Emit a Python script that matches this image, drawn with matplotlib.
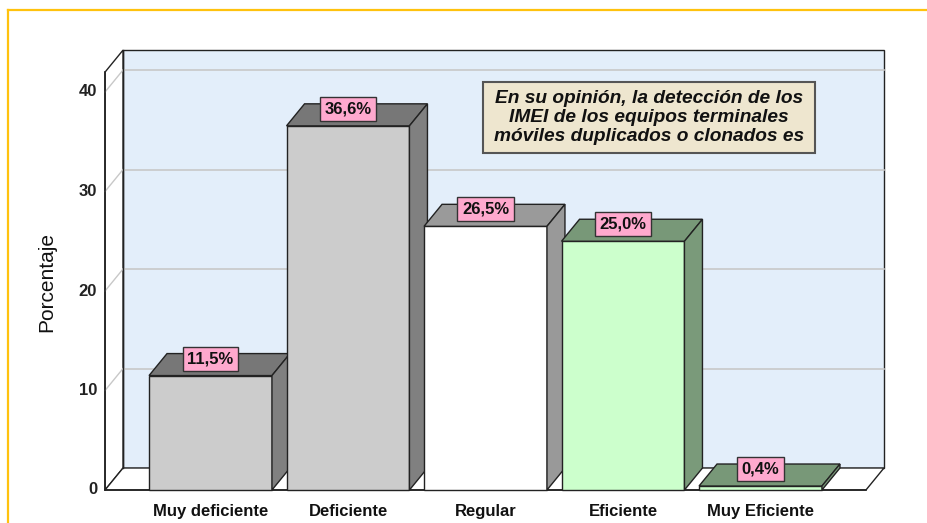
import matplotlib
matplotlib.use("Agg")
import matplotlib.pyplot as plt
from matplotlib.patches import Polygon, Rectangle
from matplotlib.lines import Line2D

categories = ["Muy deficiente", "Deficiente", "Regular", "Eficiente", "Muy Eficiente"]
values = [11.5, 36.6, 26.5, 25.0, 0.4]
value_labels = ["11,5%", "36,6%", "26,5%", "25,0%", "0,4%"]
yticks = [0, 10, 20, 30, 40]
ylabel = "Porcentaje"
note = "En su opinión, la detección de los\nIMEI de los equipos terminales\nmóviles duplicados o clonados es"

front_colors = ["#CCCCCC", "#CCCCCC", "#FFFFFF", "#CCFFCC", "#CCFFCC"]
side_colors = ["#808080", "#808080", "#999999", "#7A9A7A", "#7A9A7A"]
top_colors = ["#777777", "#777777", "#9A9A9A", "#789878", "#789878"]

W, H = 927, 523
PXX, PXY = 137.5, 9.95        # pixels per category / per percent
X0, Y0 = 210.5, 490.0          # pixel of category 0 / value 0
fig = plt.figure(figsize=(W / 100, H / 100), dpi=100)
ax = fig.add_axes([0, 0, 1, 1])
ax.set_xlim(-X0 / PXX, (W - X0) / PXX)
ax.set_ylim((Y0 - H) / PXY, Y0 / PXY)
ax.axis("off")

DX, DY = 18 / PXX, 22 / PXY
XL, XR = -0.767, 4.767
YMAX = 42.0
EC = "#222222"
NARROW = ["Liberation Sans Narrow", "Liberation Sans", "DejaVu Sans"]
SANS = ["Liberation Sans", "DejaVu Sans"]

# back wall
ax.add_patch(Polygon([(XL + DX, DY), (XR + DX, DY), (XR + DX, YMAX + DY), (XL + DX, YMAX + DY)],
                     closed=True, facecolor="#E3EEFA", edgecolor=EC, lw=1.0, zorder=1))
# left wall
ax.add_patch(Polygon([(XL, 0), (XL + DX, DY), (XL + DX, YMAX + DY), (XL, YMAX)],
                     closed=True, facecolor="white", edgecolor=EC, lw=1.0, zorder=1))
# floor
ax.add_patch(Polygon([(XL, 0), (XR, 0), (XR + DX, DY), (XL + DX, DY)],
                     closed=True, facecolor="white", edgecolor=EC, lw=1.0, zorder=1))
# gridlines
for t in yticks[1:]:
    ax.plot([XL + DX, XR + DX], [t + DY, t + DY], color="#C8C8C8", lw=1.2, zorder=1.5)
    ax.plot([XL, XL + DX], [t, t + DY], color="#C8C8C8", lw=1.0, zorder=1.5)
# redraw outlines over gridlines
ax.plot([XL + DX, XL + DX], [DY, YMAX + DY], color=EC, lw=1.0, zorder=1.6)
ax.plot([XL, XL], [0, YMAX], color=EC, lw=1.2, zorder=1.6)
ax.plot([XL, XR], [0, 0], color=EC, lw=1.2, zorder=1.6)

# tick labels
for t in yticks:
    ax.text(XL - 8 / PXX, t, str(t), ha="right", va="center", fontsize=12,
            fontweight="bold", family=NARROW, color="#222222")
ax.text((47 - X0) / PXX, (Y0 - 282) / PXY, ylabel, rotation=90, ha="center", va="center",
        fontsize=15, family=SANS, color="#111111")

HW = 0.447
z = 3
for i, (v, fc, sc, tc) in enumerate(zip(values, front_colors, side_colors, top_colors)):
    x0, x1 = i - HW, i + HW
    ax.add_patch(Polygon([(x0, 0), (x1, 0), (x1, v), (x0, v)], closed=True,
                         facecolor=fc, edgecolor=EC, lw=1.0, zorder=z))
    ax.add_patch(Polygon([(x0, v), (x1, v), (x1 + DX, v + DY), (x0 + DX, v + DY)], closed=True,
                         facecolor=tc, edgecolor=EC, lw=1.0, zorder=z))
    ax.add_patch(Polygon([(x1, 0), (x1 + DX, DY), (x1 + DX, v + DY), (x1, v)], closed=True,
                         facecolor=sc, edgecolor=EC, lw=1.0, zorder=z))
    z += 1
    ax.text(i, (Y0 - 516) / PXY, categories[i], ha="center", va="baseline", fontsize=12,
            fontweight="bold", family=SANS, color="#111111")

for i, (v, lab) in enumerate(zip(values, value_labels)):
    ax.text(i, v + 17 / PXY, lab, ha="center", va="center", fontsize=12, fontweight="bold",
            family=NARROW, color="#111111", zorder=20,
            bbox=dict(boxstyle="square,pad=0.27", facecolor="#FFA9CE", edgecolor="#333333", lw=1.0))

# annotation box
bx0, bx1 = (483 - X0) / PXX, (815 - X0) / PXX
by0, by1 = (Y0 - 153) / PXY, (Y0 - 82) / PXY
ax.add_patch(Rectangle((bx0, by0), bx1 - bx0, by1 - by0, facecolor="#EEE6CF",
                       edgecolor="#555555", lw=1.5, zorder=20))
ax.text((bx0 + bx1) / 2, (by0 + by1) / 2, note, ha="center", va="center", fontsize=13.8,
        fontweight="bold", style="italic", family=SANS,
        linespacing=1.15, color="#111111", zorder=21)

# outer frame lines
fig.add_artist(Line2D([8 / W, 1], [1 - 10 / H, 1 - 10 / H], transform=fig.transFigure,
                      color="#FFC20E", lw=1.6))
fig.add_artist(Line2D([8 / W, 8 / W], [0, 1 - 10 / H], transform=fig.transFigure,
                      color="#FFC20E", lw=1.6))

fig.savefig("out.png", dpi=100)
